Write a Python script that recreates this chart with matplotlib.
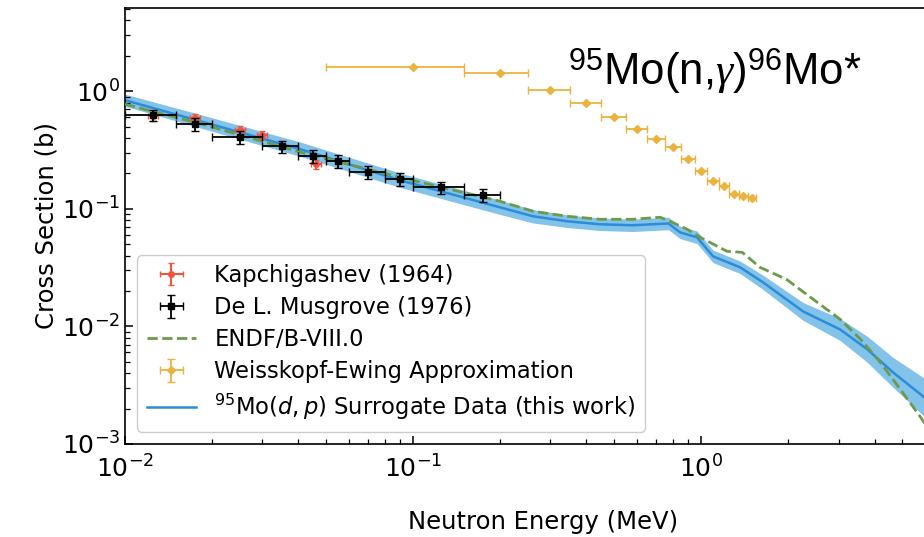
import numpy as np
import matplotlib
matplotlib.use("Agg")
import matplotlib.pyplot as plt

# Kapchigashev (1964)
kap_e = [0.0125, 0.0175, 0.025, 0.030, 0.046]
kap_xs = [0.61, 0.59, 0.466, 0.422, 0.239]

# De L. Musgrove (1976), energy bins
mus_e = [0.0125, 0.0175, 0.025, 0.035, 0.045, 0.055, 0.07, 0.09, 0.125, 0.175]
mus_de = [0.0025, 0.0025, 0.005, 0.005, 0.005, 0.005, 0.01, 0.01, 0.025, 0.025]
mus_xs = [0.625, 0.524, 0.406, 0.340, 0.280, 0.254, 0.205, 0.178, 0.152, 0.130]
mus_dxs = [0.065, 0.07, 0.05, 0.04, 0.035, 0.03, 0.025, 0.022, 0.018, 0.016]

# ENDF/B-VIII.0 evaluation
endf_e = [0.01, 0.0182, 0.0406, 0.090, 0.200, 0.261, 0.343, 0.446, 0.580, 0.72,
          0.78, 0.895, 0.992, 1.23, 1.39, 1.60, 1.98, 2.45, 3.04, 3.58, 4.19,
          4.92, 5.76, 6.5]
endf_xs = [0.775, 0.53, 0.303, 0.185, 0.116, 0.0952, 0.0863, 0.0814, 0.0814,
           0.0847, 0.0783, 0.0669, 0.0572, 0.0435, 0.0426, 0.0318, 0.0251,
           0.0170, 0.01148, 0.00775, 0.00494, 0.00291, 0.00171, 0.0011]

# Weisskopf-Ewing approximation
we_e = [0.1, 0.2, 0.3, 0.4, 0.5, 0.6, 0.7, 0.8, 0.9, 1.0, 1.1, 1.2, 1.3, 1.4, 1.5]
we_de = 0.05
we_xs = [1.60, 1.42, 1.02, 0.79, 0.60, 0.48, 0.39, 0.334, 0.264, 0.208,
         0.171, 0.155, 0.133, 0.128, 0.123]

# 95Mo(d,p) surrogate result with relative uncertainty
sur_e = [0.01, 0.0182, 0.0406, 0.090, 0.200, 0.261, 0.343, 0.446, 0.580, 0.77,
         0.845, 0.968, 1.10, 1.365, 1.64, 2.26, 3.04, 3.77, 4.64, 5.90, 7.3]
sur_xs = [0.838, 0.556, 0.321, 0.175, 0.103, 0.0863, 0.0783, 0.0738, 0.0724,
          0.0750, 0.063, 0.0572, 0.0394, 0.0318, 0.0237, 0.0134, 0.0094,
          0.0064, 0.00406, 0.00254, 0.00162]
sur_unc = [0.125, 0.14, 0.15, 0.15, 0.15, 0.14, 0.13, 0.13, 0.13, 0.13, 0.13,
           0.13, 0.13, 0.13, 0.15, 0.19, 0.24, 0.29, 0.34, 0.45, 0.54]

# title font: sans digits, serif gamma
plt.rcParams["mathtext.rm"] = "Liberation Sans"
plt.rcParams["mathtext.it"] = "Liberation Serif:italic"

fig = plt.figure(figsize=(9.24, 5.37), dpi=100)
ax = fig.add_axes([0.1353, 0.1732, 0.905, 0.812])

sur_xs = np.array(sur_xs)
sur_unc = np.array(sur_unc)
ax.fill_between(sur_e, sur_xs / (1 + sur_unc), sur_xs * (1 + sur_unc),
                color="#1E90D8", alpha=0.55, linewidth=0, zorder=1)
ax.plot(sur_e, sur_xs, color="#2B8CD8", lw=1.8, zorder=2,
        label=r"$^{95}$Mo$(d, p)$ Surrogate Data (this work)")
ax.plot(endf_e, endf_xs, "--", color="#6B9B48", lw=2, zorder=3,
        label="ENDF/B-VIII.0")

kap_e = np.array(kap_e)
kap_xs = np.array(kap_xs)
ax.errorbar(kap_e, kap_xs, xerr=0.04 * kap_e, yerr=0.08 * kap_xs, fmt="o",
            color="#F0553D", ms=4, elinewidth=1.5, capsize=2, zorder=4,
            label="Kapchigashev (1964)")
ax.errorbar(mus_e, mus_xs, xerr=mus_de, yerr=mus_dxs, fmt="s", color="black",
            ms=4.5, elinewidth=1.3, capsize=3, zorder=5,
            label="De L. Musgrove (1976)")
ax.errorbar(we_e, we_xs, xerr=we_de, yerr=np.zeros(len(we_xs)), fmt="D",
            color="#ECB23E", ms=4, elinewidth=1.3, capsize=3, zorder=4,
            label="Weisskopf-Ewing Approximation")

ax.set_xscale("log")
ax.set_yscale("log")
ax.set_xlim(0.01, 8)
ax.set_ylim(1e-3, 5.1)
ax.tick_params(which="both", direction="in", labelsize=18)
ax.tick_params(axis="x", which="major", pad=8)
ax.tick_params(which="major", length=6, width=1.1)
ax.tick_params(which="minor", length=3.5, width=0.9)
for s in ax.spines.values():
    s.set_linewidth(1.2)

ax.set_xlabel("Neutron Energy (MeV)", fontsize=17.5, labelpad=20)
ax.set_ylabel("Cross Section (b)", fontsize=17.5, labelpad=2)

handles, labels = ax.get_legend_handles_labels()
order = ["Kapchigashev (1964)", "De L. Musgrove (1976)", "ENDF/B-VIII.0",
         "Weisskopf-Ewing Approximation",
         r"$^{95}$Mo$(d, p)$ Surrogate Data (this work)"]
hmap = dict(zip(labels, handles))
ax.legend([hmap[k] for k in order], order, loc="lower left", fontsize=16.3,
          labelspacing=0.4, handlelength=2.2, handletextpad=0.8,
          borderaxespad=0.55, framealpha=1, edgecolor="#cccccc")

fig.text(0.615, 0.842, r"$^{95}$Mo(n,$\gamma$)$^{96}$Mo*", fontsize=31.5,
         family="Liberation Sans", math_fontfamily="custom",
         va="baseline", ha="left")

fig.savefig("out.png", dpi=100)
